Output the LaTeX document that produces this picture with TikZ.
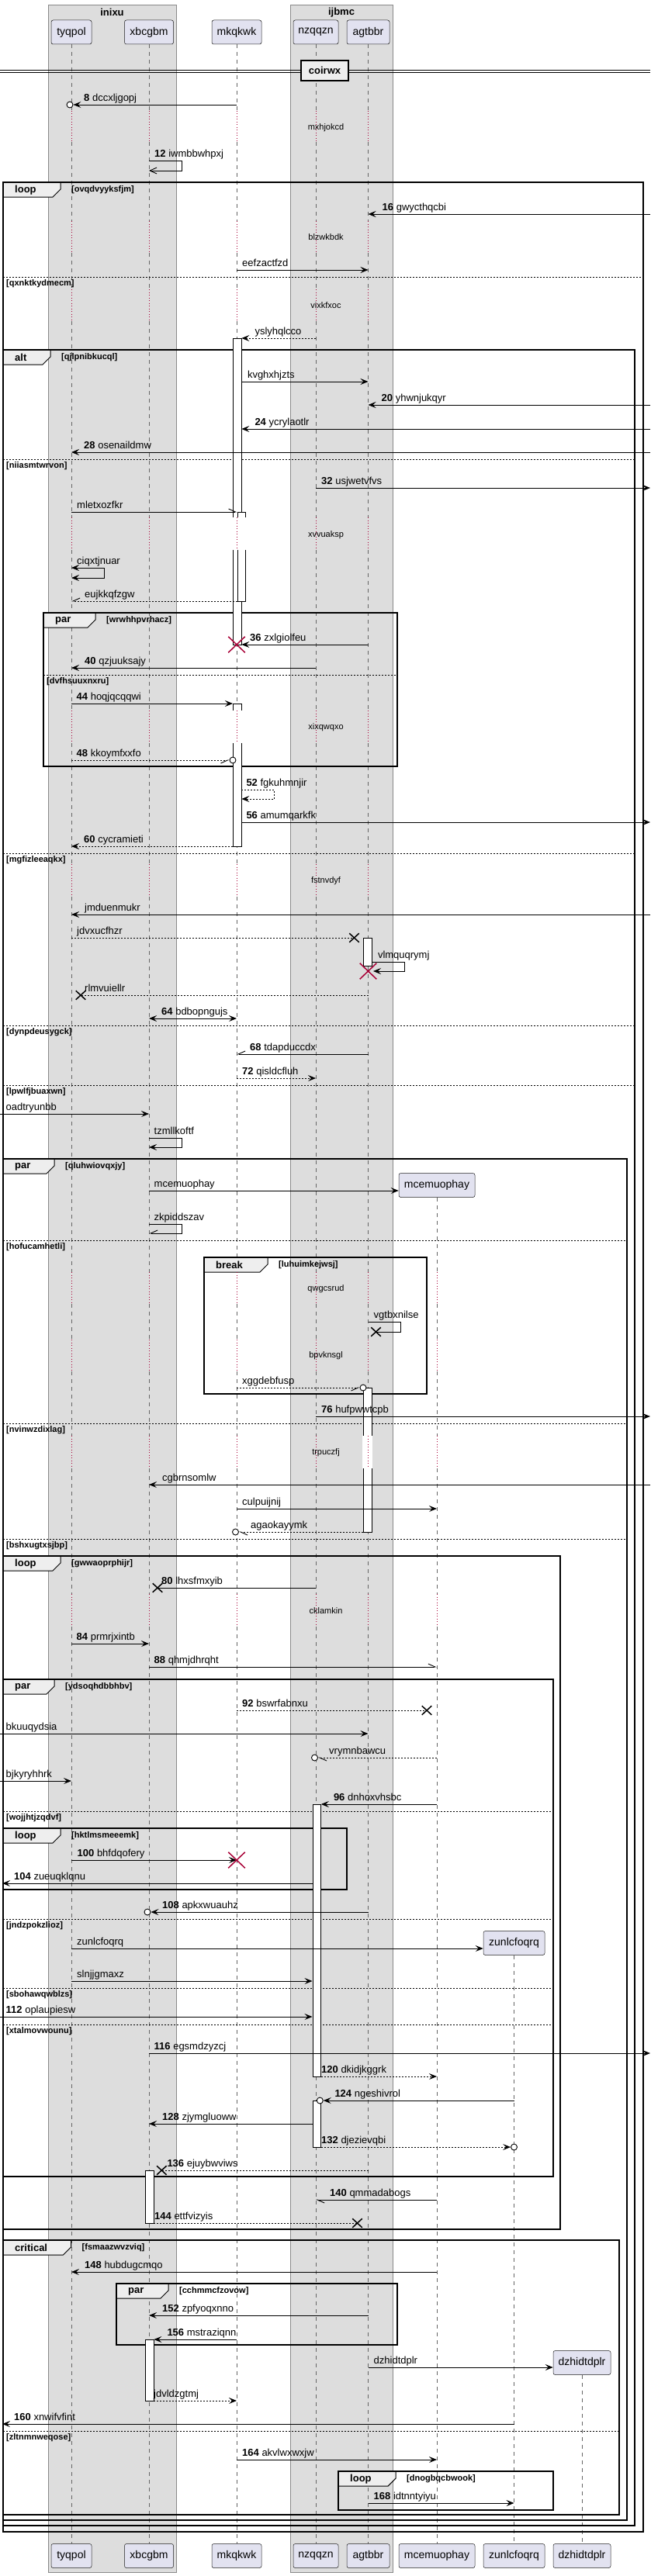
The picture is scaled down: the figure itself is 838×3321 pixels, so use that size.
\documentclass[tikz,border=0pt]{standalone}
\usepackage{fontspec}
\setmainfont{Liberation Sans}
\usetikzlibrary{arrows.meta,positioning,shapes.misc}
\definecolor{partfill}{HTML}{E2E2F0}
\definecolor{partline}{HTML}{181818}
\definecolor{boxfill}{HTML}{DDDDDD}
\definecolor{boxline}{HTML}{8A8A8A}
\definecolor{tabfill}{HTML}{EEEEEE}
\definecolor{killred}{HTML}{A80036}
\tikzset{
  part/.style={draw=partline, line width=0.5pt, fill=partfill, rounded corners=2.5pt,
    minimum height=31pt, inner sep=0pt, font=\fontsize{14}{16}\selectfont},
  grpbox/.style={draw=boxline, line width=0.6pt, fill=boxfill},
  boxtitle/.style={inner sep=0pt, font=\bfseries\fontsize{13}{15}\selectfont},
  life/.style={draw=black!60, line width=0.6pt, dash pattern=on 5pt off 5pt},
  lag/.style={draw=killred, line width=0.8pt, dash pattern=on 1pt off 2.5pt},
  actv/.style={draw=black, line width=0.8pt, fill=white, minimum width=10.5pt,
    inner sep=0pt, anchor=north west},
  frm/.style={draw=black, line width=1.5pt},
  tabshape/.style={draw=black, line width=1pt, fill=tabfill},
  sep/.style={draw=black, line width=0.8pt, dash pattern=on 2pt off 2pt},
  kw/.style={anchor=west, inner sep=0pt, font=\bfseries\fontsize{13}{15}\selectfont},
  cond/.style={anchor=west, inner sep=0pt, font=\bfseries\fontsize{11}{13}\selectfont},
  dly/.style={inner sep=0pt, font=\fontsize{11}{13}\selectfont},
  lbl/.style={anchor=base west, inner sep=0pt, yshift=4.5pt, font=\fontsize{13}{15}\selectfont},
  divbox/.style={draw=black, line width=1.5pt, fill=tabfill, minimum width=61pt,
    minimum height=26pt, inner sep=0pt, font=\bfseries\fontsize{13}{15}\selectfont},
  plain/.style={line width=0.9pt},
  dsh/.style={dash pattern=on 2pt off 2pt},
  sync/.style={plain, -{Stealth[length=10pt,width=8pt,inset=4pt]}},
  back/.style={sync, dsh},
  open/.style={plain, -{Straight Barb[length=9pt,width=8pt]}},
  halfl/.style={plain, -{Straight Barb[length=9pt,width=8pt,left]}},
  halfr/.style={plain, -{Straight Barb[length=9pt,width=8pt,right]}},
  both/.style={plain, {Stealth[length=10pt,width=8pt,inset=4pt]}-{Stealth[length=10pt,width=8pt,inset=4pt]}},
  tipo/.style={circle, draw=black, line width=0.9pt, fill=white, minimum size=8pt, inner sep=0pt},
  lostx/.style={cross out, draw=black, line width=1.5pt, minimum width=11pt, minimum height=10pt, inner sep=0pt},
  killx/.style={cross out, draw=killred, line width=1.5pt, minimum width=20pt, minimum height=19pt, inner sep=0pt}
}
\newcommand{\sdgroup}[7]{%
  \draw[tabshape] (#1,#2) -- (#5,#2) -- (#5,#2+9) -- (#5-10,#2+19) -- (#1,#2+19) -- cycle;
  \draw[frm] (#1,#2) rectangle (#3,#4);
  \node[kw] (#7-kw) at (#1+15,#2+10) {#6};
  \node[cond] (#7) at (#5+14,#2+10) {[#7]};}
\newcommand{\elsesep}[4]{%
  \draw[sep] (#1,#3) -- (#2,#3);
  \node[cond] (#4) at (#1+4,#3+9) {[#4]};}

\begin{document}
\begin{tikzpicture}[x=1pt,y=-1pt]
    \useasboundingbox (0,0) rectangle (838,3321);
    \coordinate (lft) at (0,0);
    \coordinate (rgt) at (838,0);
    \coordinate (lfr) at (3,0);

    \draw[grpbox] (62,6) rectangle (227,3316);
    \draw[grpbox] (374,6) rectangle (506,3316);
    \node[boxtitle] (inixu) at (144.5,16) {inixu};
    \node[boxtitle] (ijbmc) at (440,16) {ijbmc};

    \node[part, minimum width=52pt] (tyqpol) at (92,41.5) {tyqpol};
    \node[part, minimum width=63pt] (xbcgbm) at (192,41.5) {xbcgbm};
    \node[part, minimum width=64pt] (mkqkwk) at (305,41.5) {mkqkwk};
    \node[part, minimum width=58pt] (nzqqzn) at (407,41.5) {nzqqzn};
    \node[part, minimum width=55pt] (agtbbr) at (474.5,41.5) {agtbbr};
    \node[part, minimum width=98pt] (mcemuophay) at (563,1528) {mcemuophay};
    \node[part, minimum width=79pt] (zunlcfoqrq) at (662.5,2505) {zunlcfoqrq};
    \node[part, minimum width=74pt] (dzhidtdplr) at (750,3046) {dzhidtdplr};

    \node[part, minimum width=52pt] (tyqpol-b) at (92,3295) {tyqpol};
    \node[part, minimum width=63pt] (xbcgbm-b) at (192,3295) {xbcgbm};
    \node[part, minimum width=64pt] (mkqkwk-b) at (305,3295) {mkqkwk};
    \node[part, minimum width=58pt] (nzqqzn-b) at (407,3295) {nzqqzn};
    \node[part, minimum width=55pt] (agtbbr-b) at (474.5,3295) {agtbbr};
    \node[part, minimum width=98pt] (mcemuophay-b) at (563,3295) {mcemuophay};
    \node[part, minimum width=79pt] (zunlcfoqrq-b) at (662.5,3295) {zunlcfoqrq};
    \node[part, minimum width=74pt] (dzhidtdplr-b) at (750,3295) {dzhidtdplr};

    % lifelines, broken where the delays are
    \foreach \p in {tyqpol,xbcgbm,mkqkwk,nzqqzn,agtbbr}
        \foreach \a/\b in {57/143,183/285,326/373,414/667,709/916,958/1114,1156/1640,1681/1727,1768/1851,1893/2055,2097/3279}
            \draw[life] (\p |- 0,\a) -- (\p |- 0,\b);
    \foreach \a/\b in {1544/1640,1681/1727,1768/1851,1893/2055,2097/3279}
        \draw[life] (mcemuophay |- 0,\a) -- (mcemuophay |- 0,\b);
    \draw[life] (zunlcfoqrq.south) -- (zunlcfoqrq-b.north);
    \draw[life] (dzhidtdplr.south) -- (dzhidtdplr-b.north);

    \draw[plain] (lft |- 0,90) -- (rgt |- 0,90) (lft |- 0,93) -- (rgt |- 0,93);
    \node[divbox] (coirwx) at (418.5,91) {coirwx};

    % groups
    \sdgroup{4}{235}{829}{3264}{78}{loop}{ovqdvyyksfjm}
    \elsesep{4}{829}{357}{qxnktkydmecm}
    \sdgroup{4}{451}{818}{3256}{65}{alt}{qjlpnibkucql}
    \elsesep{4}{818}{592}{niiasmtwrvon}
    \elsesep{4}{818}{1100}{mgfizleeaqkx}
    \elsesep{4}{818}{1322}{dynpdeusygck}
    \elsesep{4}{818}{1399}{lpwlfjbuaxwn}
    \sdgroup{56}{790}{512}{988}{123}{par}{wrwhhpvrhacz}
    \elsesep{56}{512}{870}{dvfhsuuxnxru}
    \sdgroup{4}{1494}{808}{3249}{70}{par}{qluhwiovqxjy}
    \elsesep{4}{808}{1599}{hofucamhetli}
    \elsesep{4}{808}{1835}{nvinwzdixlag}
    \elsesep{4}{808}{1984}{bshxugtxsjbp}
    \sdgroup{263}{1621}{550}{1797}{345}{break}{luhuimkejwsj}
    \sdgroup{4}{2006}{722}{2874}{78}{loop}{gwwaoprphijr}
    \sdgroup{4}{2165}{713}{2806}{70}{par}{ydsoqhdbbhbv}
    \elsesep{4}{713}{2335}{wojjhtjzqdvf}
    \elsesep{4}{713}{2474}{jndzpokzlioz}
    \elsesep{4}{713}{2563}{sbohawqwblzs}
    \elsesep{4}{713}{2610}{xtalmovwounu}
    \sdgroup{4}{2357}{447}{2436}{78}{loop}{hktlmsmeeemk}
    \sdgroup{4}{2888}{798}{3242}{91.5}{critical}{fsmaazwvzviq}
    \elsesep{4}{798}{3134}{zltnmnweqose}
    \sdgroup{150}{2944}{512}{3023}{217}{par}{cchmmcfzovow}
    \sdgroup{436}{3186}{713}{3236}{510}{loop}{dnogbqcbwook}

    % activations
    \node[actv, minimum height=395pt] (act1) at (300,436) {};
    \node[actv, minimum height=115pt] (act2) at (305.7,660) {};
    \node[actv, minimum height=184pt] (act3) at (300,907) {};
    \node[actv, minimum height=36pt] (act4) at (468,1209) {};
    \node[actv, minimum height=186pt] (act5) at (468,1789) {};
    \node[actv, minimum height=351pt] (act6) at (402.5,2326) {};
    \node[actv, minimum height=60pt] (act7) at (402.5,2708) {};
    \node[actv, minimum height=68pt] (act8) at (187,2798) {};
    \node[actv, minimum height=79pt] (act9) at (187,3016) {};
    \foreach \n/\a/\b in {act1/667/709,act2/667/709,act3/916/958,act5/1851/1893}
        \fill[white] ([xshift=-1pt]\n.west |- 0,\a) rectangle ([xshift=1pt]\n.east |- 0,\b);

    % delays
    \foreach \a/\b in {143/183,285/326,373/414,667/709,916/958,1114/1156}
        \foreach \p in {tyqpol,xbcgbm,mkqkwk,nzqqzn,agtbbr}
            \draw[lag] (\p |- 0,\a) -- (\p |- 0,\b);
    \foreach \a/\b in {1640/1681,1727/1768,1851/1893,2055/2097}
        \foreach \p in {tyqpol,xbcgbm,mkqkwk,nzqqzn,agtbbr,mcemuophay}
            \draw[lag] (\p |- 0,\a) -- (\p |- 0,\b);
    \node[dly] (mxhjokcd) at (420,165) {mxhjokcd};
    \node[dly] (blzwkbdk) at (420,306) {blzwkbdk};
    \node[dly] (vixkfxoc) at (420,394) {vixkfxoc};
    \node[dly] (xvvuaksp) at (420,690) {xvvuaksp};
    \node[dly] (xixqwqxo) at (420,938) {xixqwqxo};
    \node[dly] (fstnvdyf) at (420,1136) {fstnvdyf};
    \node[dly] (qwgcsrud) at (420,1662) {qwgcsrud};
    \node[dly] (bpvknsgl) at (420,1748) {bpvknsgl};
    \node[dly] (trpuczfj) at (420,1873) {trpuczfj};
    \node[dly] (cklamkin) at (420,2077) {cklamkin};

    % messages
    \node[tipo] (o-dccxljgopj) at ([xshift=-2pt]tyqpol |- 0,135) {};
    \draw[sync] (mkqkwk |- 0,135) -- (o-dccxljgopj.east);
    \node[lbl, xshift=16pt] (l-dccxljgopj) at (tyqpol |- 0,135) {\textbf{8} dccxljgopj};

    \draw[open] (xbcgbm |- 0,207) -- ++(42,0) -- ++(0,13) -- (xbcgbm |- 0,220);
    \node[lbl, xshift=7pt] (l-iwmbbwhpxj) at (xbcgbm |- 0,207) {\textbf{12} iwmbbwhpxj};

    \draw[sync] (rgt |- 0,276) -- (agtbbr |- 0,276);
    \node[lbl, xshift=18pt] (l-gwycthqcbi) at (agtbbr |- 0,276) {\textbf{16} gwycthqcbi};

    \draw[sync] (mkqkwk |- 0,348) -- (agtbbr |- 0,348);
    \node[lbl, xshift=7pt] (l-eefzactfzd) at (mkqkwk |- 0,348) {eefzactfzd};

    \draw[back] (nzqqzn |- 0,436) -- (act1.east |- 0,436);
    \node[lbl, xshift=17pt] (l-yslyhqlcco) at (act1.east |- 0,436) {yslyhqlcco};

    \draw[sync] (act1.east |- 0,492) -- (agtbbr |- 0,492);
    \node[lbl, xshift=7.5pt] (l-kvghxhjzts) at (act1.east |- 0,492) {kvghxhjzts};

    \draw[sync] (rgt |- 0,522) -- (agtbbr |- 0,522);
    \node[lbl, xshift=17pt] (l-yhwnjukqyr) at (agtbbr |- 0,522) {\textbf{20} yhwnjukqyr};

    \draw[sync] (rgt |- 0,553) -- (act1.east |- 0,553);
    \node[lbl, xshift=17pt] (l-ycrylaotlr) at (act1.east |- 0,553) {\textbf{24} ycrylaotlr};

    \draw[sync] (rgt |- 0,583) -- (tyqpol |- 0,583);
    \node[lbl, xshift=16pt] (l-osenaildmw) at (tyqpol |- 0,583) {\textbf{28} osenaildmw};

    \draw[sync] (nzqqzn |- 0,629) -- (rgt |- 0,629);
    \node[lbl, xshift=7pt] (l-usjwetvfvs) at (nzqqzn |- 0,629) {\textbf{32} usjwetvfvs};

    \draw[halfl] (tyqpol |- 0,660) -- (act2.west |- 0,660);
    \node[lbl, xshift=7pt] (l-mletxozfkr) at (tyqpol |- 0,660) {mletxozfkr};

    \draw[both] (tyqpol |- 0,732) -- ++(42,0) -- ++(0,13) -- (tyqpol |- 0,745);
    \node[lbl, xshift=7pt] (l-ciqxtjnuar) at (tyqpol |- 0,732) {ciqxtjnuar};

    \draw[halfr, dsh] (act2.west |- 0,775) -- (tyqpol |- 0,775);
    \node[lbl, xshift=17pt] (l-eujkkqfzgw) at (tyqpol |- 0,775) {eujkkqfzgw};

    \draw[sync] (agtbbr |- 0,831) -- (act1.east |- 0,831);
    \node[killx] (k-zxlgiolfeu) at (mkqkwk |- 0,831) {};
    \node[lbl, xshift=17pt] (l-zxlgiolfeu) at (mkqkwk |- 0,831) {\textbf{36} zxlgiolfeu};

    \draw[sync] (nzqqzn |- 0,861) -- (tyqpol |- 0,861);
    \node[lbl, xshift=17pt] (l-qzjuuksajy) at (tyqpol |- 0,861) {\textbf{40} qzjuuksajy};

    \draw[sync] (tyqpol |- 0,907) -- (act3.west |- 0,907);
    \node[lbl, xshift=6.5pt] (l-hoqjqcqqwi) at (tyqpol |- 0,907) {\textbf{44} hoqjqcqqwi};

    \node[tipo] (o-kkoymfxxfo) at (act3.west |- 0,980) {};
    \draw[halfr, dsh] (tyqpol |- 0,980) -- (o-kkoymfxxfo.west);
    \node[lbl, xshift=6.5pt] (l-kkoymfxxfo) at (tyqpol |- 0,980) {\textbf{48} kkoymfxxfo};

    \draw[back] (act3.east |- 0,1018) -- ++(42.5,0) -- ++(0,12) -- (act3.east |- 0,1030);
    \node[lbl, xshift=6pt] (l-fgkuhmnjir) at (act3.east |- 0,1018) {\textbf{52} fgkuhmnjir};

    \draw[sync] (act3.east |- 0,1060) -- (rgt |- 0,1060);
    \node[lbl, xshift=6pt] (l-amumqarkfk) at (act3.east |- 0,1060) {\textbf{56} amumqarkfk};

    \draw[back] (act3.west |- 0,1091) -- (tyqpol |- 0,1091);
    \node[lbl, xshift=16pt] (l-cycramieti) at (tyqpol |- 0,1091) {\textbf{60} cycramieti};

    \draw[sync] (rgt |- 0,1179) -- (tyqpol |- 0,1179);
    \node[lbl, xshift=17pt] (l-jmduenmukr) at (tyqpol |- 0,1179) {jmduenmukr};

    \node[lostx] (x-jdvxucfhzr) at ([xshift=-18pt]agtbbr |- 0,1209) {};
    \draw[plain, dsh] (tyqpol |- 0,1209) -- (x-jdvxucfhzr.center);
    \node[lbl, xshift=7pt] (l-jdvxucfhzr) at (tyqpol |- 0,1209) {jdvxucfhzr};

    \draw[sync] (act4.east |- 0,1240) -- ++(42.5,0) -- ++(0,12) -- ([xshift=6.5pt]agtbbr |- 0,1252);
    \node[killx] (k-vlmquqrymj) at (agtbbr |- 0,1252) {};
    \node[lbl, xshift=7.5pt] (l-vlmquqrymj) at (act4.east |- 0,1240) {vlmquqrymj};

    \node[lostx] (x-rlmvuiellr) at ([xshift=12pt]tyqpol |- 0,1283) {};
    \draw[plain, dsh] (agtbbr |- 0,1283) -- (x-rlmvuiellr.center);
    \node[lbl, xshift=17pt] (l-rlmvuiellr) at (tyqpol |- 0,1283) {rlmvuiellr};

    \draw[both] (xbcgbm |- 0,1313) -- (mkqkwk |- 0,1313);
    \node[lbl, xshift=16pt] (l-bdbopngujs) at (xbcgbm |- 0,1313) {\textbf{64} bdbopngujs};

    \draw[halfr] (agtbbr |- 0,1359) -- (mkqkwk |- 0,1359);
    \node[lbl, xshift=17pt] (l-tdapduccdx) at (mkqkwk |- 0,1359) {\textbf{68} tdapduccdx};

    \draw[back] (mkqkwk |- 0,1390) -- (nzqqzn |- 0,1390);
    \node[lbl, xshift=7pt] (l-qisldcfluh) at (mkqkwk |- 0,1390) {\textbf{72} qisldcfluh};

    \draw[sync] (lft |- 0,1436) -- (xbcgbm |- 0,1436);
    \node[lbl, xshift=7.5pt] (l-oadtryunbb) at (lft |- 0,1436) {oadtryunbb};

    \draw[sync] (xbcgbm |- 0,1467) -- ++(42,0) -- ++(0,12) -- (xbcgbm |- 0,1479);
    \node[lbl, xshift=6.5pt] (l-tzmllkoftf) at (xbcgbm |- 0,1467) {tzmllkoftf};

    \draw[sync] (xbcgbm |- 0,1535) -- (mcemuophay.west |- 0,1535);
    \node[lbl, xshift=6.5pt] (l-mcemuophay) at (xbcgbm |- 0,1535) {mcemuophay};

    \draw[halfr] (xbcgbm |- 0,1578) -- ++(42,0) -- ++(0,12) -- (xbcgbm |- 0,1590);
    \node[lbl, xshift=6.5pt] (l-zkpiddszav) at (xbcgbm |- 0,1578) {zkpiddszav};

    \node[lostx] (x-vgtbxnilse) at ([xshift=10pt]agtbbr |- 0,1717) {};
    \draw[plain] (agtbbr |- 0,1704) -- ++(42,0) -- ++(0,13) -- (x-vgtbxnilse.center);
    \node[lbl, xshift=7pt] (l-vgtbxnilse) at (agtbbr |- 0,1704) {vgtbxnilse};

    \node[tipo] (o-xggdebfusp) at (act5.west |- 0,1789) {};
    \draw[halfr, dsh] (mkqkwk |- 0,1789) -- (o-xggdebfusp.west);
    \node[lbl, xshift=7pt] (l-xggdebfusp) at (mkqkwk |- 0,1789) {xggdebfusp};

    \draw[sync] (nzqqzn |- 0,1826) -- (rgt |- 0,1826);
    \node[lbl, xshift=7pt] (l-hufpwwtcpb) at (nzqqzn |- 0,1826) {\textbf{76} hufpwwtcpb};

    \draw[sync] (rgt |- 0,1914) -- (xbcgbm |- 0,1914);
    \node[lbl, xshift=17pt] (l-cgbrnsomlw) at (xbcgbm |- 0,1914) {cgbrnsomlw};

    \draw[sync] (mkqkwk |- 0,1945) -- (mcemuophay |- 0,1945);
    \node[lbl, xshift=7pt] (l-culpuijnij) at (mkqkwk |- 0,1945) {culpuijnij};

    \node[tipo] (o-agaokayymk) at ([xshift=-1.5pt]mkqkwk |- 0,1975) {};
    \draw[halfl, dsh] (act5.west |- 0,1975) -- (o-agaokayymk.east);
    \node[lbl, xshift=18pt] (l-agaokayymk) at (mkqkwk |- 0,1975) {agaokayymk};

    \node[lostx] (x-lhxsfmxyib) at ([xshift=11pt]xbcgbm |- 0,2047) {};
    \draw[plain] (nzqqzn |- 0,2047) -- (x-lhxsfmxyib.center);
    \node[lbl, xshift=16pt] (l-lhxsfmxyib) at (xbcgbm |- 0,2047) {\textbf{80} lhxsfmxyib};

    \draw[sync] (tyqpol |- 0,2119) -- (xbcgbm |- 0,2119);
    \node[lbl, xshift=6.5pt] (l-prmrjxintb) at (tyqpol |- 0,2119) {\textbf{84} prmrjxintb};

    \draw[halfl] (xbcgbm |- 0,2149) -- (mcemuophay |- 0,2149);
    \node[lbl, xshift=6.5pt] (l-qhmjdhrqht) at (xbcgbm |- 0,2149) {\textbf{88} qhmjdhrqht};

    \node[lostx] (x-bswrfabnxu) at ([xshift=-13pt]mcemuophay |- 0,2205) {};
    \draw[plain, dsh] (mkqkwk |- 0,2205) -- (x-bswrfabnxu.center);
    \node[lbl, xshift=7pt] (l-bswrfabnxu) at (mkqkwk |- 0,2205) {\textbf{92} bswrfabnxu};

    \draw[sync] (lft |- 0,2235) -- (agtbbr |- 0,2235);
    \node[lbl, xshift=7.5pt] (l-bkuuqydsia) at (lft |- 0,2235) {bkuuqydsia};

    \node[tipo] (o-vrymnbawcu) at ([xshift=-1.5pt]nzqqzn |- 0,2266) {};
    \draw[halfl, dsh] (mcemuophay |- 0,2266) -- (o-vrymnbawcu.east);
    \node[lbl, xshift=17pt] (l-vrymnbawcu) at (nzqqzn |- 0,2266) {vrymnbawcu};

    \draw[sync] (lft |- 0,2296) -- (tyqpol |- 0,2296);
    \node[lbl, xshift=7.5pt] (l-bjkyryhhrk) at (lft |- 0,2296) {bjkyryhhrk};

    \draw[sync] (mcemuophay |- 0,2326) -- (act6.east |- 0,2326);
    \node[lbl, xshift=16pt] (l-dnhoxvhsbc) at (act6.east |- 0,2326) {\textbf{96} dnhoxvhsbc};

    \draw[sync] (tyqpol |- 0,2398) -- (mkqkwk |- 0,2398);
    \node[killx] (k-bhfdqofery) at (mkqkwk |- 0,2398) {};
    \node[lbl, xshift=7.5pt] (l-bhfdqofery) at (tyqpol |- 0,2398) {\textbf{100} bhfdqofery};

    \draw[sync] (act6.west |- 0,2428) -- (lfr |- 0,2428);
    \node[lbl, xshift=15pt] (l-zueuqklqnu) at (lfr |- 0,2428) {\textbf{104} zueuqklqnu};

    \node[tipo] (o-apkxwuauhz) at ([xshift=-2pt]xbcgbm |- 0,2465) {};
    \draw[sync] (agtbbr |- 0,2465) -- (o-apkxwuauhz.east);
    \node[lbl, xshift=17pt] (l-apkxwuauhz) at (xbcgbm |- 0,2465) {\textbf{108} apkxwuauhz};

    \draw[sync] (tyqpol |- 0,2512) -- (zunlcfoqrq.west |- 0,2512);
    \node[lbl, xshift=7pt] (l-zunlcfoqrq) at (tyqpol |- 0,2512) {zunlcfoqrq};

    \draw[sync] (tyqpol |- 0,2554) -- (act6.west |- 0,2554);
    \node[lbl, xshift=7pt] (l-slnjjgmaxz) at (tyqpol |- 0,2554) {slnjjgmaxz};

    \draw[sync] (lft |- 0,2600) -- (act6.west |- 0,2600);
    \node[lbl, xshift=7.5pt] (l-oplaupiesw) at (lft |- 0,2600) {\textbf{112} oplaupiesw};

    \draw[sync] (xbcgbm |- 0,2647) -- (rgt |- 0,2647);
    \node[lbl, xshift=6.5pt] (l-egsmdzyzcj) at (xbcgbm |- 0,2647) {\textbf{116} egsmdzyzcj};

    \draw[back] (act6.east |- 0,2677) -- (mcemuophay |- 0,2677);
    \node[lbl, xshift=7pt] (l-dkidjkggrk) at (nzqqzn |- 0,2677) {\textbf{120} dkidjkggrk};

    \node[tipo] (o-ngeshivrol) at ([xshift=-1.5pt]act7.east |- 0,2708) {};
    \draw[sync] (zunlcfoqrq |- 0,2708) -- (o-ngeshivrol.east);
    \node[lbl, xshift=17.5pt] (l-ngeshivrol) at (act7.east |- 0,2708) {\textbf{124} ngeshivrol};

    \draw[sync] (act7.west |- 0,2738) -- (xbcgbm |- 0,2738);
    \node[lbl, xshift=17pt] (l-zjymgluoww) at (xbcgbm |- 0,2738) {\textbf{128} zjymgluoww};

    \node[tipo] (o-djezievqbi) at (zunlcfoqrq |- 0,2768) {};
    \draw[back] (act7.east |- 0,2768) -- (o-djezievqbi.west);
    \node[lbl, xshift=7pt] (l-djezievqbi) at (nzqqzn |- 0,2768) {\textbf{132} djezievqbi};

    \node[lostx] (x-ejuybwviws) at ([xshift=10pt]act8.east |- 0,2798) {};
    \draw[plain, dsh] (agtbbr |- 0,2798) -- (x-ejuybwviws.center);
    \node[lbl, xshift=17pt] (l-ejuybwviws) at (act8.east |- 0,2798) {\textbf{136} ejuybwviws};

    \draw[halfl] (mcemuophay |- 0,2836) -- (nzqqzn |- 0,2836);
    \node[lbl, xshift=18pt] (l-qmmadabogs) at (nzqqzn |- 0,2836) {\textbf{140} qmmadabogs};

    \node[lostx] (x-ettfvizyis) at ([xshift=-14pt]agtbbr |- 0,2866) {};
    \draw[plain, dsh] (act8.east |- 0,2866) -- (x-ettfvizyis.center);
    \node[lbl, xshift=7pt] (l-ettfvizyis) at (xbcgbm |- 0,2866) {\textbf{144} ettfvizyis};

    \draw[sync] (mcemuophay |- 0,2929) -- (tyqpol |- 0,2929);
    \node[lbl, xshift=17pt] (l-hubdugcmqo) at (tyqpol |- 0,2929) {\textbf{148} hubdugcmqo};

    \draw[sync] (agtbbr |- 0,2985) -- (xbcgbm |- 0,2985);
    \node[lbl, xshift=17pt] (l-zpfyoqxnno) at (xbcgbm |- 0,2985) {\textbf{152} zpfyoqxnno};

    \draw[sync] (mkqkwk |- 0,3016) -- (act9.east |- 0,3016);
    \node[lbl, xshift=17pt] (l-mstraziqnn) at (act9.east |- 0,3016) {\textbf{156} mstraziqnn};

    \draw[sync] (agtbbr |- 0,3052) -- (dzhidtdplr.west |- 0,3052);
    \node[lbl, xshift=7pt] (l-dzhidtdplr) at (agtbbr |- 0,3052) {dzhidtdplr};

    \draw[back] (act9.east |- 0,3095) -- (mkqkwk |- 0,3095);
    \node[lbl, xshift=6pt] (l-jdvldzgtmj) at (xbcgbm |- 0,3095) {jdvldzgtmj};

    \draw[sync] (zunlcfoqrq |- 0,3125) -- (lfr |- 0,3125);
    \node[lbl, xshift=15pt] (l-xnwifvfint) at (lfr |- 0,3125) {\textbf{160} xnwifvfint};

    \draw[sync] (mkqkwk |- 0,3171) -- (mcemuophay |- 0,3171);
    \node[lbl, xshift=7pt] (l-akvlwxwxjw) at (mkqkwk |- 0,3171) {\textbf{164} akvlwxwxjw};

    \draw[sync] (agtbbr |- 0,3227) -- (zunlcfoqrq |- 0,3227);
    \node[lbl, xshift=7pt] (l-idtnntyiyu) at (agtbbr |- 0,3227) {\textbf{168} idtnntyiyu};

\end{tikzpicture}
\end{document}
